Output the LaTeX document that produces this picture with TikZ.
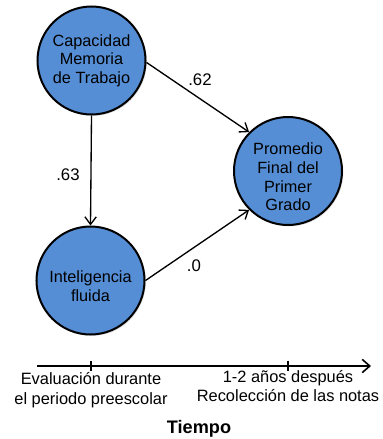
\documentclass[tikz,border=0pt]{standalone}
\usepackage{fontspec}
\setmainfont{Liberation Sans}
\usepackage{tikz}
\usetikzlibrary{arrows.meta, positioning, shadows}

\definecolor{circblue}{RGB}{85,142,213}

\begin{document}
\begin{tikzpicture}[x=0.75pt, y=-0.75pt,
    var/.style={circle, draw=black, line width=1.5pt, fill=circblue,
        minimum size=81pt, inner sep=0pt, align=center,
        drop shadow={shadow xshift=1pt, shadow yshift=-1pt, opacity=0.25},
        font=\fontsize{12.2}{14}\selectfont},
    link/.style={line width=1pt, -{Straight Barb[length=2mm, width=3mm]}},
    coef/.style={font=\fontsize{12.6}{15}\selectfont},
    stamp/.style={align=center, font=\fontsize{12.3}{14.6}\selectfont}]
        \useasboundingbox (0,0) rectangle (382,439);
        % Variables
        \node[var] (cap) at (91.5,60.5) {Capacidad\\Memoria\\de Trabajo};
        \node[var] (prom) at (288,171) {\rule{0pt}{18pt}Promedio\\Final del\\Primer\\Grado};
        \node[var] (intel) at (90.5,280.5) {\rule{0pt}{17pt}Inteligencia\\fluida};
        % Paths
        \draw[link] (cap.south) -- (intel.north);
        \node[coef] (c63) at (68,175) {.63};
        \draw[link] (cap.-2) -- (prom.135);
        \node[coef] (c62) at (200,80) {.62};
        \draw[link] (intel.east) -- (prom.225);
        \node[coef] (c0) at (194,266) {.0};
        % Time axis
        \coordinate (ax0) at (37,366);
        \coordinate (ax1) at (371,366);
        \draw[line width=1.2pt, -{Straight Barb[length=2mm, width=3.5mm]}] (ax0) -- (ax1);
        \coordinate (tk1) at (91,366);
        \coordinate (tk2) at (288,366);
        \draw[line width=2pt] ([yshift=4pt]tk1) -- ([yshift=-4pt]tk1);
        \draw[line width=2pt] ([yshift=4pt]tk2) -- ([yshift=-4pt]tk2);
        \node[stamp] (pre) at (91,390) {Evaluación durante\\el periodo preescolar};
        \node[stamp] (post) at (288,386) {1-2 años después\\Recolección de las notas};
        \node[font=\bfseries\fontsize{13.6}{16}\selectfont] (tiempo) at (199,429) {Tiempo};
    \end{tikzpicture}
\end{document}
